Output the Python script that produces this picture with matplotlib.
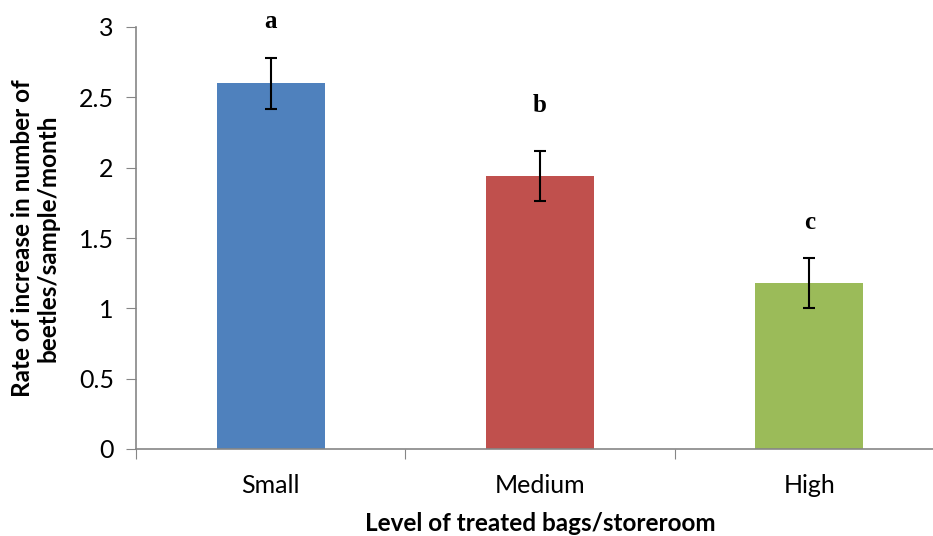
import numpy as np
import matplotlib.pyplot as plt

plt.rcParams['font.family'] = ['Lato', 'DejaVu Sans']

levels = ['Small', 'Medium', 'High']
rates = [2.60, 1.94, 1.18]
errors = [0.18, 0.18, 0.18]
letters = ['a', 'b', 'c']
letter_y = [3.04, 2.44, 1.61]
colors = ['#4F81BD', '#C0504D', '#9BBB59']

fig = plt.figure(figsize=(9.33, 5.36), dpi=100)
ax = fig.add_axes([136/933, 87/536, 808/933, 422/536])

x = np.arange(len(levels)) + 0.5
ax.bar(x, rates, width=0.4, color=colors, zorder=2)
ax.errorbar(x, rates, yerr=errors, fmt='none', ecolor='black', elinewidth=1.5,
            capsize=4.3, capthick=1.5, zorder=3)
for xi, yi, t in zip(x, letter_y, letters):
    ax.text(xi, yi, t, ha='center', va='center', fontsize=18, fontweight='bold',
            family='Liberation Serif')

ax.set_xlim(0, 3)
ax.set_ylim(0, 3)
ax.set_yticks(np.arange(0, 3.01, 0.5))
ax.set_yticklabels(['0', '0.5', '1', '1.5', '2', '2.5', '3'])
ax.set_xticks(np.arange(0, 3.01, 1))
ax.set_xticklabels([])
ax.set_xticks(x, minor=True)
ax.set_xticklabels(levels, minor=True)
ax.tick_params(axis='x', which='minor', length=0, pad=18, labelsize=18)
ax.tick_params(axis='x', which='major', length=7, color='#868686', direction='out')
ax.tick_params(axis='y', length=7, color='#868686', labelsize=18, pad=9)

for s in ['top', 'right']:
    ax.spines[s].set_visible(False)
for s in ['left', 'bottom']:
    ax.spines[s].set_color('#868686')
    ax.spines[s].set_linewidth(1.2)

ax.set_ylabel('Rate of increase in number of\nbeetles/sample/month', fontsize=17.5,
              fontweight='bold', labelpad=14, linespacing=1.1)
ax.set_xlabel('Level of treated bags/storeroom', fontsize=17.5, fontweight='bold', labelpad=11)

fig.savefig('out.png', dpi=100)
